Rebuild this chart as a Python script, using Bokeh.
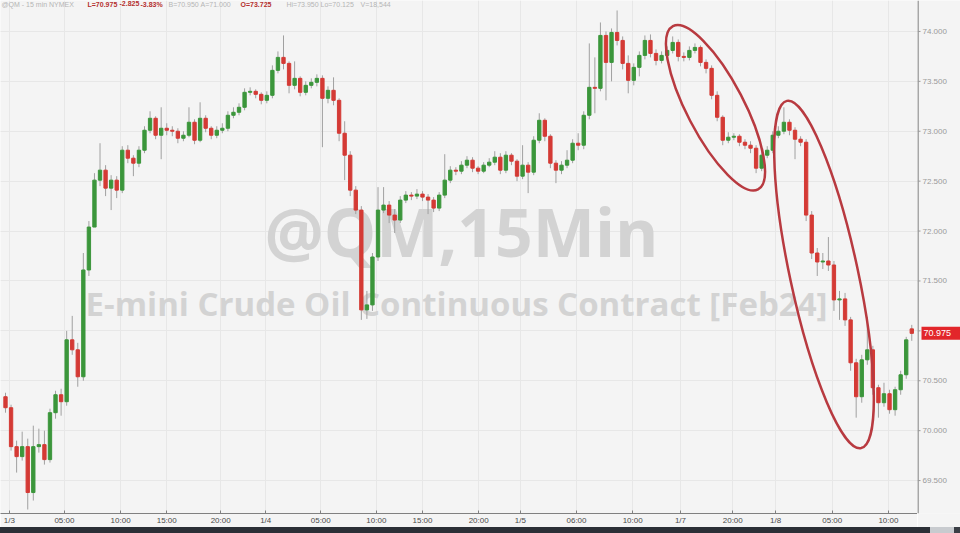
from bokeh.plotting import figure
from bokeh.models import ColumnDataSource, FixedTicker, Label, Div, Range1d, Grid
from bokeh.layouts import column, row
from bokeh.embed import file_html
from bokeh.resources import INLINE
from bokeh.core.properties import value

# ---------------- data (30-min bars) ----------------
opens = [70.34, 70.23, 69.84, 69.74, 69.84, 69.38, 69.84, 69.86, 69.71, 70.18,
         70.36, 70.29, 70.91, 70.81, 70.54, 71.61, 72.04, 72.51, 72.61, 72.43,
         72.51, 72.41, 72.81, 72.73, 72.68, 72.81, 73.01, 73.13, 72.96, 73.03,
         73.01, 73.00, 72.93, 72.96, 73.09, 72.91, 73.13, 73.03, 72.96, 73.01,
         73.03, 73.16, 73.19, 73.24, 73.39, 73.40, 73.37, 73.31, 73.36, 73.61,
         73.74, 73.68, 73.46, 73.53, 73.39, 73.46, 73.49, 73.53, 73.33, 73.41,
         73.31, 72.98, 72.76, 72.41, 72.21, 71.21, 71.26, 71.74, 72.21, 72.26,
         72.16, 72.11, 72.31, 72.36, 72.35, 72.37, 72.34, 72.31, 72.23, 72.36,
         72.51, 72.61, 72.60, 72.66, 72.71, 72.63, 72.60, 72.66, 72.69, 72.74,
         72.61, 72.76, 72.70, 72.55, 72.66, 72.59, 72.91, 73.11, 72.95, 72.68,
         72.61, 72.66, 72.71, 72.88, 72.86, 73.16, 73.44, 73.43, 73.96, 73.69,
         73.99, 73.91, 73.68, 73.51, 73.64, 73.76, 73.91, 73.78, 73.71, 73.76,
         73.81, 73.89, 73.75, 73.74, 73.81, 73.84, 73.69, 73.63, 73.36, 73.14,
         72.91, 72.94, 72.95, 72.89, 72.86, 72.83, 72.63, 72.76, 72.81, 72.96,
         73.00, 73.09, 73.01, 72.92, 72.89, 72.16, 71.78, 71.69, 71.70, 71.66,
         71.31, 71.32, 71.11, 70.68, 70.34, 70.71, 70.81, 70.43, 70.28, 70.37,
         70.21, 70.41, 70.56, 71.02]
highs = [70.38, 70.26, 69.90, 69.99, 69.92, 70.05, 70.02, 70.00, 70.22, 70.40,
         70.42, 71.00, 71.15, 70.88, 71.78, 72.10, 72.58, 72.88, 72.66, 72.56,
         72.55, 72.85, 72.86, 72.76, 72.85, 73.05, 73.20, 73.15, 73.24, 73.08,
         73.05, 73.03, 73.00, 73.24, 73.12, 73.29, 73.16, 73.05, 73.05, 73.08,
         73.20, 73.24, 73.28, 73.43, 73.44, 73.42, 73.39, 73.40, 73.66, 73.80,
         73.96, 73.70, 73.70, 73.55, 73.50, 73.53, 73.57, 73.56, 73.45, 73.54,
         73.33, 73.10, 72.80, 72.45, 72.25, 71.40, 71.78, 72.44, 72.44, 72.30,
         72.22, 72.35, 72.40, 72.39, 72.42, 72.40, 72.37, 72.34, 72.39, 72.77,
         72.65, 72.64, 72.70, 72.75, 72.74, 72.65, 72.69, 72.73, 72.80, 72.78,
         72.80, 72.78, 72.72, 72.86, 72.69, 72.95, 73.18, 73.13, 72.97, 72.71,
         72.70, 72.81, 72.92, 72.98, 73.20, 73.88, 73.74, 74.09, 74.00, 74.03,
         74.21, 73.95, 73.76, 73.68, 73.80, 73.96, 73.97, 73.82, 73.80, 73.85,
         73.95, 73.92, 73.79, 73.85, 73.88, 73.86, 73.72, 73.66, 73.40, 73.16,
         72.99, 72.98, 72.97, 72.92, 72.90, 72.86, 72.80, 72.85, 73.00, 73.05,
         73.24, 73.12, 73.04, 72.95, 72.92, 72.20, 71.83, 71.78, 71.94, 71.70,
         71.40, 71.38, 71.14, 70.72, 70.76, 71.14, 70.85, 70.46, 70.48, 70.41,
         70.44, 70.60, 70.94, 71.06]
lows = [70.18, 69.80, 69.58, 69.70, 69.21, 69.30, 69.78, 69.66, 69.68, 70.12,
        70.15, 70.25, 70.76, 70.44, 70.50, 71.55, 72.20, 72.45, 72.35, 72.21,
        72.33, 72.38, 72.68, 72.55, 72.64, 72.78, 72.98, 72.92, 72.72, 72.96,
        72.95, 72.88, 72.90, 72.94, 72.87, 72.89, 72.99, 72.92, 72.93, 72.98,
        73.00, 73.13, 73.16, 73.21, 73.36, 73.33, 73.27, 73.28, 73.33, 73.58,
        73.62, 73.38, 73.42, 73.35, 73.36, 73.43, 73.45, 72.84, 73.28, 73.26,
        72.90, 72.51, 72.35, 72.17, 71.11, 71.12, 71.20, 71.70, 72.18, 72.08,
        71.98, 72.08, 72.28, 72.31, 72.32, 72.30, 72.17, 72.19, 72.20, 72.33,
        72.48, 72.56, 72.57, 72.63, 72.59, 72.57, 72.58, 72.64, 72.66, 72.57,
        72.58, 72.66, 72.50, 72.52, 72.38, 72.56, 72.88, 72.90, 72.63, 72.48,
        72.57, 72.63, 72.68, 72.81, 72.82, 73.12, 73.18, 73.40, 73.31, 73.50,
        73.86, 73.62, 73.38, 73.46, 73.55, 73.72, 73.74, 73.66, 73.68, 73.72,
        73.78, 73.70, 73.70, 73.71, 73.78, 73.65, 73.58, 73.32, 73.10, 72.86,
        72.88, 72.91, 72.85, 72.82, 72.78, 72.58, 72.60, 72.73, 72.78, 72.93,
        72.97, 72.96, 72.72, 72.85, 72.10, 71.72, 71.55, 71.62, 71.60, 71.20,
        71.11, 71.05, 70.60, 70.13, 70.28, 70.66, 70.36, 70.13, 70.24, 70.17,
        70.15, 70.36, 70.52, 70.90]
closes = [70.23, 69.84, 69.74, 69.84, 69.38, 69.84, 69.86, 69.71, 70.18, 70.36,
          70.29, 70.91, 70.81, 70.54, 71.61, 72.04, 72.51, 72.61, 72.43, 72.51,
          72.41, 72.81, 72.73, 72.68, 72.81, 73.01, 73.13, 72.96, 73.03, 73.01,
          73.00, 72.93, 72.96, 73.09, 72.91, 73.13, 73.03, 72.96, 73.01, 73.03,
          73.16, 73.19, 73.24, 73.39, 73.40, 73.37, 73.31, 73.36, 73.61, 73.74,
          73.68, 73.46, 73.53, 73.39, 73.46, 73.49, 73.53, 73.33, 73.41, 73.31,
          72.98, 72.76, 72.41, 72.21, 71.21, 71.26, 71.74, 72.21, 72.26, 72.16,
          72.11, 72.31, 72.36, 72.35, 72.37, 72.34, 72.31, 72.23, 72.36, 72.51,
          72.61, 72.60, 72.66, 72.71, 72.63, 72.60, 72.66, 72.69, 72.74, 72.61,
          72.76, 72.70, 72.55, 72.66, 72.59, 72.91, 73.11, 72.95, 72.68, 72.61,
          72.66, 72.71, 72.88, 72.86, 73.16, 73.44, 73.43, 73.96, 73.69, 73.99,
          73.91, 73.68, 73.51, 73.64, 73.76, 73.91, 73.78, 73.71, 73.76, 73.81,
          73.89, 73.75, 73.74, 73.81, 73.84, 73.69, 73.63, 73.36, 73.14, 72.91,
          72.94, 72.95, 72.89, 72.86, 72.83, 72.63, 72.76, 72.81, 72.96, 73.00,
          73.09, 73.01, 72.92, 72.89, 72.16, 71.78, 71.69, 71.70, 71.66, 71.31,
          71.32, 71.11, 70.68, 70.34, 70.71, 70.81, 70.43, 70.28, 70.37, 70.21,
          70.41, 70.56, 70.91, 70.975]

x_tick_pos = [0.7, 10.6, 20.7, 29.0, 38.7, 46.8, 56.7, 66.7, 75.0, 85.1,
              92.6, 102.7, 112.8, 121.4, 130.8, 138.5, 148.7, 158.8]
x_tick_labels = ["1/3", "05:00", "10:00", "15:00", "20:00", "1/4", "05:00", "10:00", "15:00",
                 "20:00", "1/5", "06:00", "10:00", "1/7", "20:00", "1/8", "05:00", "10:00"]
y_ticks = [69.5, 70.0, 70.5, 71.0, 71.5, 72.0, 72.5, 73.0, 73.5, 74.0]
y_tick_labels = ["69.500", "70.000", "70.500", "71.000", "71.500",
                 "72.000", "72.500", "73.000", "73.500", "74.000"]
last_price = 70.975
last_label = "70.975"

header = [("@QM - 15 min  NYMEX", "#b4b4b4", "normal"),
          ("L=70.975", "#b5312f", "bold"), ("-2.825", "#b5312f", "bold"),
          ("-3.83%", "#b5312f", "bold"), ("B=70.950", "#b4b4b4", "normal"),
          ("A=71.000", "#b4b4b4", "normal"), ("O=73.725", "#b5312f", "bold"),
          ("Hi=73.950", "#b4b4b4", "normal"), ("Lo=70.125", "#b4b4b4", "normal"),
          ("V=18,544", "#b4b4b4", "normal")]
header_px = [1, 87, 119, 140, 168, 200, 240, 286, 320, 360]

# ---------------- main price panel ----------------
BG = "#f4f4f4"
GRID = "#e7e7e7"
PX_PER_BAR = 5.56
def px_to_idx(px):
    return (px - 5) / PX_PER_BAR

X0, X1 = px_to_idx(0), px_to_idx(917)
yr = Range1d(69.17, 74.31)
p = figure(width=917, height=527, x_range=Range1d(X0, X1), y_range=yr,
           output_backend="svg", toolbar_location=None, y_axis_location=None,
           min_border_left=0, min_border_top=0, min_border_right=0, min_border_bottom=13,
           background_fill_color=BG, border_fill_color=BG, outline_line_color=None)
p.add_layout(Grid(dimension=1, ticker=FixedTicker(ticks=y_ticks), grid_line_color=GRID))

n = len(closes)
idx = list(range(n))
green, red = "#3b963b", "#d43a35"
src = ColumnDataSource(dict(
    x=idx, h=highs, l=lows,
    top=[max(o, c) for o, c in zip(opens, closes)],
    bottom=[min(o, c) for o, c in zip(opens, closes)],
    color=[green if c >= o else red for o, c in zip(opens, closes)]))

# watermark
for txt, px, yv, fs in [("@QM,15Min", 461, 72.00, "66px"),
                        ("E-mini Crude Oil Continuous Contract [Feb24]", 456, 71.27, "33px")]:
    p.add_layout(Label(x=px_to_idx(px), y=yv, text=txt, text_align="center",
                       text_baseline="alphabetic", text_font="Open Sans",
                       text_font_style="bold", text_font_size=fs, text_color="#d3d3d3",
                       level="underlay"))

p.segment(x0="x", x1="x", y0="l", y1="h", source=src, line_color="#a0a0a0", line_width=1)
p.vbar(x="x", top="top", bottom="bottom", width=0.6, source=src,
       fill_color="color", line_color="color", line_width=1)

# highlight ellipses
p.ellipse(x=[px_to_idx(715)], y=[73.235], width=[184], height=[57], angle=[-1.09],
          width_units="screen", height_units="screen", fill_color=None,
          line_color="#b83a40", line_width=2.5)
p.ellipse(x=[px_to_idx(823.5)], y=[71.565], width=[355], height=[68], angle=[-1.36],
          width_units="screen", height_units="screen", fill_color=None,
          line_color="#b83a40", line_width=2.5)

# header
for (txt, col, style), px in zip(header, header_px):
    p.add_layout(Label(x=px_to_idx(px), y=74.30, text=txt, text_align="left",
                       text_baseline="top", text_font="Liberation Sans",
                       text_font_style=style, text_font_size="7px", text_color=col))

xa = p.xaxis[0]
xa.ticker = FixedTicker(ticks=x_tick_pos)
xa.major_label_overrides = {t: s for t, s in zip(x_tick_pos, x_tick_labels)}
xa.major_label_text_font = "Liberation Sans"
xa.major_label_text_font_size = "8px"
xa.major_label_text_color = "#4a4a4a"
xa.axis_line_color = "#808080"
xa.major_tick_line_color = "#808080"
xa.major_tick_in = 3
xa.major_tick_out = 0
xa.minor_tick_line_color = None
xa.major_label_standoff = 2
p.xgrid.grid_line_color = GRID

# ---------------- right price scale panel ----------------
s = figure(width=43, height=527, x_range=Range1d(0, 43), y_range=yr,
           output_backend="svg", toolbar_location=None,
           x_axis_location=None, y_axis_location=None,
           min_border_left=0, min_border_top=0, min_border_right=0, min_border_bottom=13,
           background_fill_color=BG, border_fill_color=BG, outline_line_color=None)
s.xgrid.visible = False
s.ygrid.visible = False
s.segment(x0=[0.5], x1=[0.5], y0=[yr.start], y1=[yr.end], line_color="#5a5a5a", line_width=1)
s.segment(x0=[0] * len(y_ticks), x1=[3] * len(y_ticks), y0=y_ticks, y1=y_ticks,
          line_color="#9a9a9a", line_width=1)
s.text(x=[5] * len(y_ticks), y=y_ticks, text=y_tick_labels, text_baseline="middle",
       text_align="left", text_font=value("Liberation Sans"), text_font_size="8px",
       text_color="#9a9a9a")
s.rect(x=[23.5], y=[last_price], width=[39], height=[13], height_units="screen",
       fill_color="#e2262a", line_color=None)
s.text(x=[6], y=[last_price], text=[last_label], text_baseline="middle", text_align="left",
       text_font=value("Liberation Sans"), text_font_size="9px", text_color="white")

bar = Div(width=960, height=6, margin=0, styles={
    "background": "linear-gradient(to right, #2b2f36 0px, #2b2f36 930px, #c8cbcf 930px, #c8cbcf 954px, #3a3e45 954px)"})

layout = column(row(p, s, spacing=0), bar, spacing=0)
open("out.html", "w").write(file_html(layout, INLINE))
